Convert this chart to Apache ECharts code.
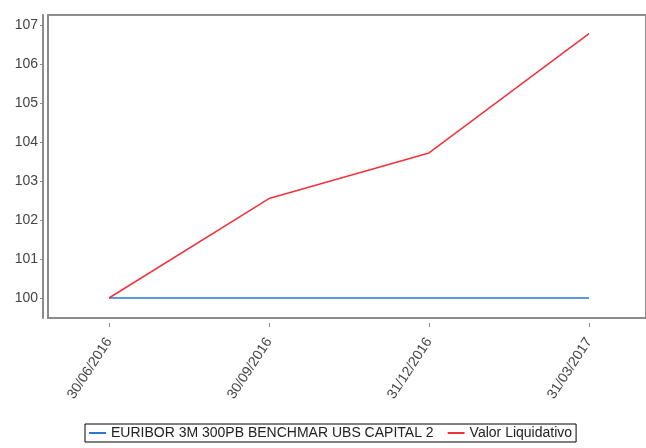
<!DOCTYPE html>
<html><head><meta charset="utf-8">
<script src="https://cdn.jsdelivr.net/npm/echarts@6/dist/echarts.min.js"></script>
<style>html,body{margin:0;padding:0;background:#fff}#c{width:646px;height:448px}</style>
</head><body><div id="c"></div>
<script>
const categories = ['30/06/2016', '30/09/2016', '31/12/2016', '31/03/2017'];
const euriborValues = [100, 100, 100, 100];
const valorValues = [100, 102.55, 103.72, 106.78];
const yTicks = [100, 101, 102, 103, 104, 105, 106, 107];
const seriesNames = ['EURIBOR 3M 300PB BENCHMAR UBS CAPITAL 2', 'Valor Liquidativo'];

const font = 'Liberation Sans, Arial, sans-serif';
const chart = echarts.init(document.getElementById('c'));
chart.setOption({
  animation: false,
  backgroundColor: '#fff',
  grid: [
    {left: 48, right: -6, top: 15, bottom: 130, show: true, borderColor: '#8c8c8c', borderWidth: 2, backgroundColor: 'transparent'},
    {left: 109, right: 57, top: 15, bottom: 130}
  ],
  xAxis: [
    {gridIndex: 0, type: 'value', min: 0, max: 1, offset: 5,
     axisLine: {show: true, lineStyle: {color: '#8c8c8c', width: 2}},
     axisTick: {show: false}, axisLabel: {show: false}, splitLine: {show: false}},
    {gridIndex: 1, type: 'category', data: categories, boundaryGap: false, offset: 5,
     axisLine: {show: false},
     axisTick: {show: true, length: 4, lineStyle: {color: '#8c8c8c'}},
     axisLabel: {rotate: 57, color: '#444', fontSize: 14, fontFamily: font, margin: 16},
     splitLine: {show: false}}
  ],
  yAxis: [
    {gridIndex: 0, type: 'value', show: false, min: 0, max: 1},
    {gridIndex: 1, type: 'value', min: 99.487, max: 107.256, offset: 66,
     axisLine: {show: true, lineStyle: {color: '#8c8c8c', width: 2}},
     axisTick: {show: true, length: 3, customValues: yTicks, lineStyle: {color: '#8c8c8c'}},
     axisLabel: {customValues: yTicks, color: '#444', fontSize: 14, fontFamily: font, margin: 5},
     splitLine: {show: false}}
  ],
  legend: {
    left: 85, top: 424, orient: 'horizontal',
    data: seriesNames,
    icon: 'rect', itemWidth: 17, itemHeight: 2, itemGap: 14,
    borderColor: '#000', borderWidth: 1, padding: [2, 4],
    textStyle: {fontSize: 14, fontFamily: font, color: '#222'}
  },
  series: [
    {name: seriesNames[0], type: 'line', xAxisIndex: 1, yAxisIndex: 1, data: euriborValues,
     showSymbol: false, symbol: 'none', color: '#2a78d2', lineStyle: {width: 1.5, color: '#2a78d2'}},
    {name: seriesNames[1], type: 'line', xAxisIndex: 1, yAxisIndex: 1, data: valorValues,
     showSymbol: false, symbol: 'none', color: '#f0323c', lineStyle: {width: 1.5, color: '#f0323c'}}
  ]
});
</script></body></html>
